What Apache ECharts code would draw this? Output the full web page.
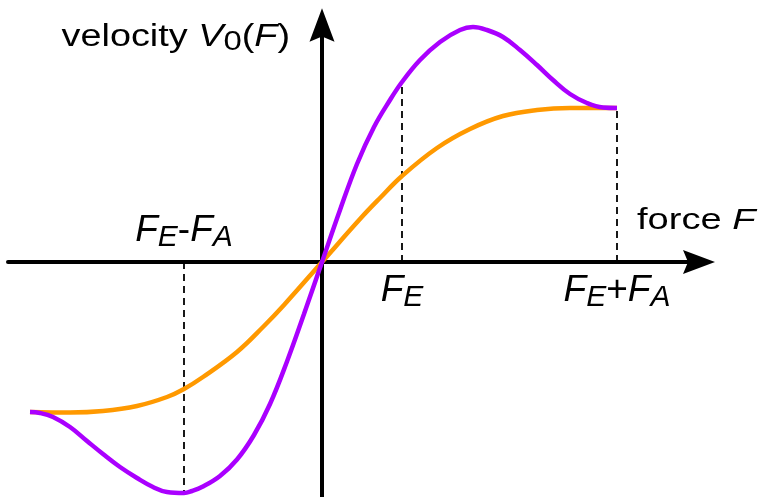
<!DOCTYPE html>
<html>
<head>
<meta charset="utf-8">
<script src="https://cdn.jsdelivr.net/npm/echarts@6/dist/echarts.min.js"></script>
<style>
  html, body { margin: 0; padding: 0; background: #fff; }
  #chart { width: 761px; height: 497px; }
</style>
</head>
<body>
<div id="chart"></div>
<script>
// Velocity V0(F) against applied force F for two response models.
const forceSharp = [-2.92, -2.82, -2.69, -2.52, -2.35, -2.19, -2.02, -1.85, -1.69, -1.55, -1.38, -1.30,
  -1.19, -1.02, -0.85, -0.68, -0.52, -0.35, -0.18, 0,
  0.18, 0.35, 0.52, 0.68, 0.80, 0.98, 1.18, 1.38, 1.51, 1.65, 1.81, 1.98, 2.15, 2.31, 2.48, 2.65, 2.81, 2.95];
const velocitySharp = [-1.50, -1.51, -1.55, -1.65, -1.79, -1.92, -2.05, -2.16, -2.25, -2.30, -2.31, -2.29,
  -2.245, -2.14, -1.975, -1.73, -1.42, -0.995, -0.52, 0,
  0.52, 0.98, 1.35, 1.62, 1.80, 2.02, 2.20, 2.32, 2.35, 2.32, 2.25, 2.12, 1.97, 1.82, 1.68, 1.59, 1.545, 1.54];

const forceSmooth = [-2.92, -2.52, -2.19, -1.85, -1.55, -1.38, -1.19, -0.85, -0.58, -0.38, 0,
  0.38, 0.58, 0.80, 1.15, 1.48, 1.81, 2.15, 2.48, 2.95];
const velocitySmooth = [-1.50, -1.505, -1.49, -1.44, -1.35, -1.27, -1.15, -0.90, -0.64, -0.43, 0,
  0.43, 0.64, 0.86, 1.14, 1.33, 1.46, 1.52, 1.54, 1.54];

// Characteristic forces: F_E - F_A, F_E, F_E + F_A
const markerForce = [-1.38, 0.80, 2.95];
const markerText = ['{f|F}{s|E}{o|-}{f|F}{s|A}', '{f|F}{s|E}', '{f|F}{s|E}{o|+}{f|F}{s|A}'];

const axisTitleY = '{t|velocity }{i|V}{s|0}{t|(}{i|F}{t|)}';
const axisTitleX = '{t|force }{i|F}';

const xMin = -3.14, xMax = 3.77;
const yMin = -2.35, yMax = 2.37;

const PURPLE = '#AA00FF';
const ORANGE = '#FF9900';
const FONT = '"Liberation Sans", Arial, Helvetica, sans-serif';

const pair = (xs, ys) => xs.map((x, i) => [x, ys[i]]);
const sharpData = pair(forceSharp, velocitySharp);
const smoothData = pair(forceSmooth, velocitySmooth);

// dashed guides run from the force axis up (or down) to the sharp curve
const guideSeries = markerForce.map((f) => {
  const v = velocitySharp[forceSharp.indexOf(f)];
  return {
    type: 'line',
    data: [[f, 0], [f, v]],
    showSymbol: false,
    silent: true,
    z: 1,
    lineStyle: { color: '#000', width: 1.8, type: [7, 5] }
  };
});

const arrowPath = 'path://M12,0 L24,32 L12,27 L0,32 Z';

const chart = echarts.init(document.getElementById('chart'), null, { renderer: 'canvas' });
chart.setOption({
  animation: false,
  backgroundColor: '#fff',
  grid: { left: 8, right: 62, top: 25, bottom: 0, containLabel: false },
  xAxis: {
    type: 'value', min: xMin, max: xMax,
    splitLine: { show: false }, axisTick: { show: false }, axisLabel: { show: false },
    axisLine: { show: true, onZero: true, symbol: ['none', arrowPath], symbolSize: [24, 32],
      lineStyle: { color: '#000', width: 4 } }
  },
  yAxis: {
    type: 'value', min: yMin, max: yMax,
    splitLine: { show: false }, axisTick: { show: false }, axisLabel: { show: false },
    axisLine: { show: true, onZero: true, symbol: ['none', arrowPath], symbolSize: [25, 34],
      lineStyle: { color: '#000', width: 4 } }
  },
  series: guideSeries.concat([
    {
      type: 'line', data: smoothData, smooth: 0.4, showSymbol: false, z: 3,
      lineStyle: { color: ORANGE, width: 4.5 }
    },
    {
      type: 'line', data: sharpData, smooth: 0.4, showSymbol: false, z: 4,
      lineStyle: { color: PURPLE, width: 4.5 }
    }
  ])
});

const toPx = (p) => chart.convertToPixel({ gridIndex: 0 }, p);

function textEl(x, y, text, rich, align, scaleX) {
  return {
    type: 'text', x: x, y: y, scaleX: scaleX, scaleY: 1, z: 10,
    style: {
      text: text, rich: rich, fill: '#000',
      align: align, textAlign: align, verticalAlign: 'middle', textVerticalAlign: 'middle'
    }
  };
}

const markerRich = {
  f: { fontFamily: FONT, fontSize: 37, fontStyle: 'italic', lineHeight: 44, fill: '#000' },
  o: { fontFamily: FONT, fontSize: 37, lineHeight: 44, fill: '#000' },
  s: { fontFamily: FONT, fontSize: 30, fontStyle: 'italic', lineHeight: 22.6, verticalAlign: 'bottom', fill: '#000' }
};
const titleRich = (size) => ({
  t: { fontFamily: FONT, fontSize: size, lineHeight: size * 1.2, fill: '#000' },
  i: { fontFamily: FONT, fontSize: size, fontStyle: 'italic', lineHeight: size * 1.2, fill: '#000' },
  s: { fontFamily: FONT, fontSize: size * 0.87, lineHeight: size * 0.65, verticalAlign: 'bottom', fill: '#000' }
});

const origin = toPx([0, 0]);
const yTop = toPx([0, yMax]);
const xEnd = toPx([xMax, 0]);

const labels = markerForce.map((f, i) => {
  const p = toPx([f, 0]);
  const v = velocitySharp[forceSharp.indexOf(f)];
  const y = v < 0 ? p[1] - 31.5 : p[1] + 29;
  return textEl(p[0], y, markerText[i], markerRich, 'center', 1);
});
labels.push(textEl(yTop[0] - 32, yTop[1] + 12.4, axisTitleY, titleRich(31), 'right', 1.22));
labels.push(textEl(xEnd[0] - 62, origin[1] - 41.4, axisTitleX, titleRich(30), 'left', 1.27));

chart.setOption({ graphic: labels });
</script>
</body>
</html>
